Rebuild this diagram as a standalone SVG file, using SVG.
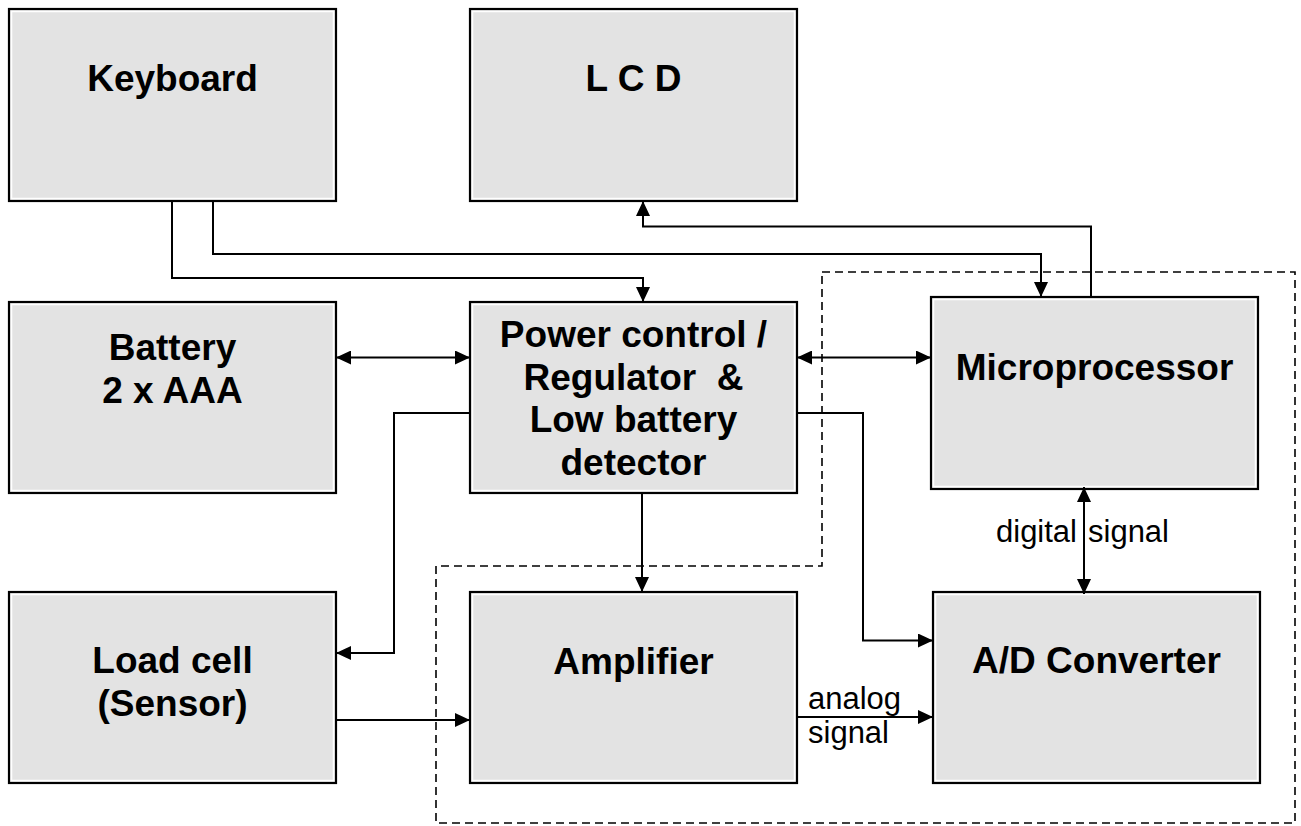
<svg xmlns="http://www.w3.org/2000/svg" width="1301" height="826" viewBox="0 0 1301 826">
<style>
.box{fill:#e3e3e3;stroke:#000;stroke-width:2.2}
.inner{fill:none;stroke:#fff;stroke-width:1.5}
.lbl{font-family:"Liberation Sans",Arial,sans-serif;font-weight:bold;font-size:37px;text-anchor:middle;fill:#000}
.sm{font-family:"Liberation Sans",Arial,sans-serif;font-size:31px;fill:#000}
.ln{fill:none;stroke:#000;stroke-width:2}
.dash{fill:none;stroke:#000;stroke-width:1.6;stroke-dasharray:8 5}
</style>
<defs>
<marker id="ah" markerUnits="userSpaceOnUse" markerWidth="16" markerHeight="14" refX="15" refY="7" orient="auto-start-reverse">
<path d="M0,0 L15,7 L0,14 Z" fill="#000"/>
</marker>
</defs>
<rect width="1301" height="826" fill="#fff"/>
<g id="boundary">
<path class="dash" d="M822,272 H1295 V823 H436 V566 H822 Z"/>
</g>
<g id="keyboard">
<rect class="box" x="9" y="9" width="327" height="192"/>
<rect class="inner" x="11.5" y="11.5" width="322" height="187"/>
<text class="lbl" x="172.5" y="91">Keyboard</text>
</g>
<g id="lcd">
<rect class="box" x="470" y="9" width="327" height="192"/>
<rect class="inner" x="472.5" y="11.5" width="322" height="187"/>
<text class="lbl" x="633.5" y="91">L C D</text>
</g>
<g id="battery">
<rect class="box" x="9" y="302" width="327" height="191"/>
<rect class="inner" x="11.5" y="304.5" width="322" height="186"/>
<text class="lbl" x="172.5" y="360">Battery</text>
<text class="lbl" x="172.5" y="403">2 x AAA</text>
</g>
<g id="power">
<rect class="box" x="470" y="302" width="327" height="191"/>
<rect class="inner" x="472.5" y="304.5" width="322" height="186"/>
<text class="lbl" x="633.5" y="347">Power control /</text>
<text class="lbl" x="633.5" y="390" xml:space="preserve">Regulator  &amp;</text>
<text class="lbl" x="633.5" y="432">Low battery</text>
<text class="lbl" x="633.5" y="475">detector</text>
</g>
<g id="microprocessor">
<rect class="box" x="931" y="297" width="327" height="192"/>
<rect class="inner" x="933.5" y="299.5" width="322" height="187"/>
<text class="lbl" x="1094.5" y="380">Microprocessor</text>
</g>
<g id="loadcell">
<rect class="box" x="9" y="592" width="327" height="191"/>
<rect class="inner" x="11.5" y="594.5" width="322" height="186"/>
<text class="lbl" x="172.5" y="673">Load cell</text>
<text class="lbl" x="172.5" y="716">(Sensor)</text>
</g>
<g id="amplifier">
<rect class="box" x="470" y="592" width="327" height="191"/>
<rect class="inner" x="472.5" y="594.5" width="322" height="186"/>
<text class="lbl" x="633.5" y="674">Amplifier</text>
</g>
<g id="adconverter">
<rect class="box" x="933" y="592" width="327" height="191"/>
<rect class="inner" x="935.5" y="594.5" width="322" height="186"/>
<text class="lbl" x="1096.5" y="673">A/D Converter</text>
</g>
<g id="connectors">
<path class="ln" d="M172,201 V278 H643 V302" marker-end="url(#ah)"/>
<path class="ln" d="M213,201 V254 H1041 V297" marker-end="url(#ah)"/>
<path class="ln" d="M1091,297 V226.5 H643 V201" marker-end="url(#ah)"/>
<path class="ln" d="M336,357.5 H470" marker-start="url(#ah)" marker-end="url(#ah)"/>
<path class="ln" d="M797,357.5 H931" marker-start="url(#ah)" marker-end="url(#ah)"/>
<path class="ln" d="M470,413 H394 V653 H336" marker-end="url(#ah)"/>
<path class="ln" d="M797,413 H863 V640.5 H933" marker-end="url(#ah)"/>
<path class="ln" d="M642,493 V592" marker-end="url(#ah)"/>
<path class="ln" d="M336,720 H470" marker-end="url(#ah)"/>
<path class="ln" d="M797,717 H933" marker-end="url(#ah)"/>
<path class="ln" d="M1084,487 V594" marker-start="url(#ah)" marker-end="url(#ah)"/>
<text class="sm" x="808" y="709">analog</text>
<text class="sm" x="808" y="743">signal</text>
<text class="sm" x="996" y="542">digital <tspan x="1088">signal</tspan></text>
</g>
</svg>
